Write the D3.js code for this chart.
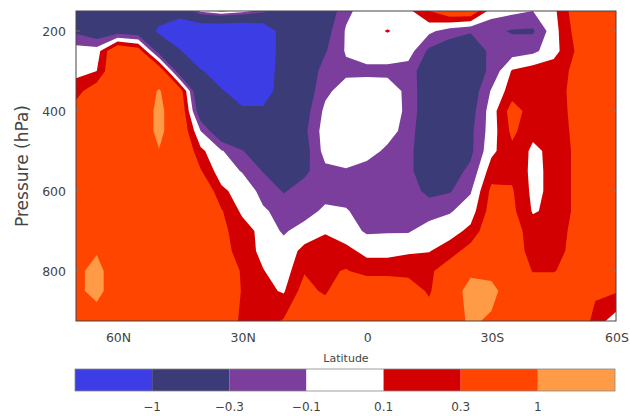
<!DOCTYPE html>
<html>
<head>
<meta charset="utf-8">
<script src="https://cdn.jsdelivr.net/npm/d3@7"></script>
<style>
  body { margin: 0; background: #fff; }
  text { font-family: "DejaVu Sans", sans-serif; fill: #444; }
</style>
</head>
<body>
<svg id="chart" width="630" height="416"></svg>
<script>
// latitude columns (deg, + = N) and pressure rows (hPa)
var lats = [70, 65, 60, 55, 50, 45, 40, 35, 30, 25, 20, 15, 10, 5, 0,
            -5, -10, -15, -20, -25, -30, -35, -40, -45, -50, -55, -60];
var pressures = [150, 200, 250, 300, 350, 400, 450, 500, 550, 600, 650, 700, 750, 800, 850, 925];

// anomaly, one row per pressure level
var anomaly = [
  /*150*/ [-0.6,-0.6,-0.6,-0.6,-0.7,-0.7,-0.05,0.15,0.0,-0.2,-0.6,-0.6,-0.5,-0.15,0.0,0.0,0.05,0.3,0.5,0.5,0.0,-0.05,-0.1,0.05,0.4,0.6,0.6],
  /*200*/ [-0.35,-0.5,-0.45,-0.5,-1.1,-1.5,-1.6,-1.7,-1.7,-1.5,-0.7,-0.5,-0.4,-0.08,0.04,0.11,0.04,-0.05,-0.2,-0.28,-0.25,-0.32,-0.33,0.02,0.35,0.6,0.6],
  /*250*/ [0.0,0.0,0.6,0.45,-0.45,-0.95,-1.5,-1.7,-1.7,-1.5,-0.7,-0.5,-0.32,-0.08,0.0,0.0,0.0,-0.35,-0.45,-0.45,-0.25,-0.2,-0.15,0.02,0.3,0.6,0.6],
  /*300*/ [0.03,0.1,0.6,0.6,0.55,-0.5,-0.95,-1.3,-1.5,-1.4,-0.7,-0.5,-0.2,-0.15,-0.15,-0.15,-0.2,-0.45,-0.5,-0.45,-0.25,0.12,0.2,0.22,0.33,0.6,0.6],
  /*350*/ [0.22,0.45,0.6,0.6,1.05,0.45,-0.7,-0.95,-1.3,-1.3,-0.7,-0.45,-0.15,0.0,0.02,0.0,-0.15,-0.5,-0.55,-0.45,-0.08,0.2,0.22,0.22,0.35,0.6,0.6],
  /*400*/ [0.4,0.6,0.6,0.6,1.15,0.55,-0.5,-0.7,-0.9,-0.9,-0.6,-0.4,-0.05,0.05,0.05,0.02,-0.15,-0.5,-0.55,-0.4,0.0,0.4,0.2,0.2,0.35,0.6,0.6],
  /*450*/ [0.6,0.6,0.6,0.6,1.15,0.55,-0.1,-0.55,-0.7,-0.7,-0.6,-0.35,0.0,0.05,0.05,0.0,-0.2,-0.5,-0.5,-0.35,0.0,0.35,0.15,0.15,0.35,0.6,0.6],
  /*500*/ [0.6,0.6,0.6,0.6,0.98,0.6,0.15,-0.08,-0.28,-0.55,-0.6,-0.4,-0.02,0.03,0.0,-0.15,-0.25,-0.45,-0.45,-0.35,0.05,0.25,0.06,0.15,0.33,0.6,0.6],
  /*550*/ [0.6,0.6,0.6,0.6,0.6,0.6,0.32,-0.02,-0.11,-0.31,-0.6,-0.35,-0.15,-0.12,-0.2,-0.2,-0.25,-0.45,-0.4,-0.25,0.2,0.25,0.05,0.15,0.33,0.6,0.6],
  /*600*/ [0.6,0.6,0.6,0.6,0.6,0.6,0.55,0.15,0.0,-0.15,-0.32,-0.2,-0.2,-0.2,-0.2,-0.2,-0.22,-0.35,-0.32,-0.12,0.35,0.32,0.05,0.15,0.33,0.6,0.6],
  /*650*/ [0.6,0.6,0.6,0.6,0.6,0.6,0.6,0.32,0.06,-0.08,-0.15,-0.2,-0.05,-0.08,-0.2,-0.2,-0.2,-0.2,-0.12,0.0,0.4,0.35,0.08,0.15,0.33,0.6,0.6],
  /*700*/ [0.6,0.6,0.6,0.6,0.6,0.6,0.6,0.35,0.2,0.03,-0.13,0.0,0.08,0.0,-0.13,-0.12,-0.12,0.0,0.02,0.15,0.5,0.4,0.2,0.2,0.35,0.6,0.6],
  /*750*/ [0.7,0.95,0.6,0.6,0.6,0.6,0.6,0.4,0.2,0.05,0.0,0.15,0.2,0.15,0.05,0.05,0.08,0.09,0.2,0.4,0.6,0.45,0.2,0.2,0.38,0.6,0.6],
  /*800*/ [0.85,1.2,0.6,0.6,0.6,0.6,0.6,0.6,0.26,0.11,0.0,0.28,0.25,0.32,0.2,0.2,0.2,0.25,0.45,0.9,0.8,0.6,0.28,0.28,0.45,0.6,0.6],
  /*850*/ [0.85,1.2,0.6,0.6,0.6,0.6,0.6,0.6,0.28,0.15,0.08,0.4,0.25,0.6,0.6,0.6,0.5,0.25,0.7,1.2,1.2,0.6,0.6,0.6,0.6,0.35,0.32],
  /*925*/ [0.6,0.65,0.6,0.6,0.6,0.7,0.6,0.5,0.25,0.2,0.32,0.5,0.6,0.6,0.6,0.6,0.6,0.5,0.7,1.1,0.9,0.6,0.6,0.6,0.6,0.2,0.0]
];

var levels = [-1, -0.3, -0.1, 0.1, 0.3, 1];
var bandColors = ["#3d3de6", "#3b3b78", "#7b3e9c", "#ffffff", "#d20000", "#ff4500", "#ff9b47"];
var levelLabels = ["\u22121", "\u22120.3", "\u22120.1", "0.1", "0.3", "1"];
var latTicks = [60, 30, 0, -30, -60];
var latTickLabels = ["60N", "30N", "0", "30S", "60S"];
var pTicks = [200, 400, 600, 800];

var svg = d3.select("#chart");

var x = d3.scaleLinear().domain([70, -60]).range([76, 616]);
var y = d3.scaleLinear().domain([150, 925]).range([11, 321]);

var nx = lats.length, ny = pressures.length;
// contour grid coordinates -> data coordinates (samples sit at cell centres)
var colToLat = d3.scaleLinear().domain(d3.range(nx).map(function (i) { return i + 0.5; })).range(lats).clamp(true);
var rowToP = d3.scaleLinear().domain(d3.range(ny).map(function (j) { return j + 0.5; })).range(pressures).clamp(true);

var proj = d3.geoTransform({
  point: function (gx, gy) {
    this.stream.point(x(colToLat(gx)), y(rowToP(gy)));
  }
});
var path = d3.geoPath(proj);

var contours = d3.contours().size([nx, ny]).thresholds(levels)(d3.merge(anomaly));

svg.append("clipPath").attr("id", "plotclip")
  .append("rect").attr("x", 76).attr("y", 11).attr("width", 540).attr("height", 310);

var plot = svg.append("g").attr("clip-path", "url(#plotclip)");
plot.append("rect")
  .attr("x", 76).attr("y", 11).attr("width", 540).attr("height", 310)
  .attr("fill", bandColors[0]);

plot.selectAll("path.band")
  .data(contours)
  .enter().append("path")
  .attr("class", "band")
  .attr("d", path)
  .attr("fill", function (d, i) { return bandColors[i + 1]; })
  .attr("fill-rule", "evenodd");

// frame and small inner ticks
svg.append("rect")
  .attr("x", 76).attr("y", 11).attr("width", 540).attr("height", 310)
  .attr("fill", "none").attr("stroke", "#444").attr("stroke-width", 1);

pTicks.forEach(function (p) {
  svg.append("line").attr("x1", 76).attr("x2", 80).attr("y1", y(p)).attr("y2", y(p))
    .attr("stroke", "#777").attr("stroke-width", 0.8);
  svg.append("line").attr("x1", 612).attr("x2", 616).attr("y1", y(p)).attr("y2", y(p))
    .attr("stroke", "#777").attr("stroke-width", 0.8);
});

svg.selectAll("text.ylab")
  .data(pTicks)
  .enter().append("text")
  .attr("class", "ylab")
  .attr("x", 66)
  .attr("y", function (d) { return y(d) + 4.5; })
  .attr("text-anchor", "end")
  .style("font-size", "12.5px")
  .text(function (d) { return d; });

svg.selectAll("text.xlab")
  .data(latTicks)
  .enter().append("text")
  .attr("class", "xlab")
  .attr("x", function (d) { return x(d) + 1; })
  .attr("y", 342)
  .attr("text-anchor", "middle")
  .style("font-size", "12.5px")
  .text(function (d, i) { return latTickLabels[i]; });

svg.append("text")
  .attr("x", 346).attr("y", 362)
  .attr("text-anchor", "middle")
  .style("font-size", "11px")
  .text("Latitude");

svg.append("text")
  .attr("transform", "translate(28,166) rotate(-90)")
  .attr("text-anchor", "middle")
  .style("font-size", "17px")
  .text("Pressure (hPa)");

// colour bar
var cb = d3.scaleBand().domain(d3.range(bandColors.length)).range([75, 615]);
svg.selectAll("rect.cb")
  .data(bandColors)
  .enter().append("rect")
  .attr("class", "cb")
  .attr("x", function (d, i) { return cb(i); })
  .attr("y", 369)
  .attr("width", cb.bandwidth())
  .attr("height", 22)
  .attr("fill", function (d) { return d; });
svg.append("rect")
  .attr("x", 75).attr("y", 369).attr("width", 540).attr("height", 22)
  .attr("fill", "none").attr("stroke", "#888").attr("stroke-width", 0.8);

svg.selectAll("text.cblab")
  .data(levels)
  .enter().append("text")
  .attr("class", "cblab")
  .attr("x", function (d, i) { return cb(i + 1); })
  .attr("y", 411)
  .attr("text-anchor", "middle")
  .style("font-size", "12px")
  .text(function (d, i) { return levelLabels[i]; });
</script>
</body>
</html>
